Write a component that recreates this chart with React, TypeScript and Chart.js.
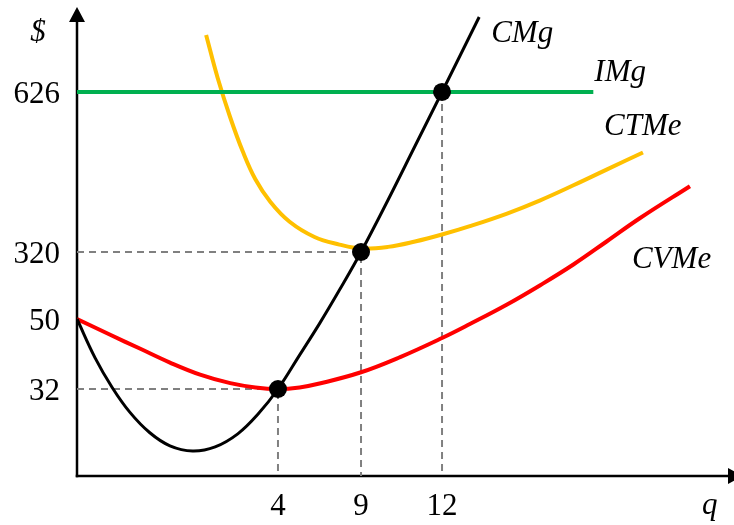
import React, { useEffect, useRef } from 'react';
import { Chart, LinearScale, registerables } from 'chart.js';

// Quantities marked on the q axis and cost levels marked on the $ axis
const Q_TICKS = [4, 9, 12];
const COST_TICKS = [32, 50, 320, 626];

// Marginal cost (CMg)
const CMG_Q = [0, 0.36, 0.7, 1.05, 1.45, 1.85, 2.3, 2.75, 3.2, 3.6, 4, 5.3, 6.5, 7.7, 9, 10, 11, 12, 13.4];
const CMG_COST = [50, 40.0, 32.4, 23.5, 15.9, 11.1, 9.2, 10.7, 15.5, 22.7, 32, 40.7, 48.8, 166.5, 320, 419.5, 522.7, 626, 779.5];

// Average variable cost (CVMe)
const CVME_Q = [0, 0.65, 1.25, 1.85, 2.45, 3.05, 3.55, 4, 5.3, 6.5, 9, 10.45, 12, 13.05, 14.45, 15.7, 16.95, 18.2, 19.45, 21.34];
const CVME_COST = [50, 46.0, 42.4, 38.8, 35.7, 33.5, 32.4, 32, 32.4, 33.4, 36.3, 40.2, 45.1, 48.7, 108.4, 186.2, 269.6, 340.1, 384.5, 445.8];

// Average total cost (CTMe)
const CTME_Q = [2.57, 2.8, 3.05, 3.3, 3.55, 3.85, 4.7, 6.2, 7.7, 9, 10, 11, 12, 13.05, 14.45, 15.7, 16.95, 18.2, 19.57];
const CTME_COST = [742.7, 654.7, 577.2, 512.0, 459.0, 415.6, 377.8, 348.7, 334.2, 326.7, 329.8, 340.1, 353.5, 369.5, 393.6, 418.9, 447.6, 477.6, 510.3];

// Marginal revenue (IMg) = price
const IMG_Q = [0, 17.7];
const IMG_COST = [626, 626];

// Marked points: shutdown, break-even and profit-maximising output
const KEY_Q = [4, 9, 12];
const KEY_COST = [32, 320, 626];

const CURVE_NAMES = ['CMg', 'IMg', 'CTMe', 'CVMe'];
const Y_TITLE = '$';
const X_TITLE = 'q';

// The axes are drawn schematically: each axis is split into linear pieces
// between the marked values (value -> fraction of the axis length).
const AXIS_BREAKS: Record<string, { values: number[]; fractions: number[] }> = {
  x: { values: [0, 4, 9, 12, 23], fractions: [0, 0.3059, 0.4323, 0.5556, 1] },
  y: { values: [0, 32, 50, 320, 626, 800], fractions: [0, 0.1855, 0.3348, 0.4776, 0.8188, 1] },
};

function piecewise(v: number, from: number[], to: number[]) {
  const n = from.length;
  let i = 0;
  if (v >= from[n - 1]) i = n - 2;
  else if (v > from[0]) {
    while (i < n - 2 && v > from[i + 1]) i++;
  }
  const t = (v - from[i]) / (from[i + 1] - from[i]);
  return to[i] + t * (to[i + 1] - to[i]);
}

class BrokenLinearScale extends LinearScale {
  static id = 'brokenLinear';
  static defaults = {};
  getPixelForValue(value: any) {
    if (value === null || value === undefined || Number.isNaN(value)) return NaN;
    const b = AXIS_BREAKS[(this as any).axis];
    return this.getPixelForDecimal(piecewise(value, b.values, b.fractions));
  }
  getValueForPixel(pixel: number) {
    const b = AXIS_BREAKS[(this as any).axis];
    return piecewise(this.getDecimalForPixel(pixel), b.fractions, b.values);
  }
}

Chart.register(...registerables, BrokenLinearScale);

const SERIF = "'Liberation Serif', 'Times New Roman', serif";

const toPoints = (qs: number[], cs: number[]) => qs.map((q, i) => ({ x: q, y: cs[i] }));

const axesPlugin = {
  id: 'arrowAxes',
  beforeDatasetsDraw(chart: any) {
    const { ctx, chartArea } = chart;
    const { left, right, top, bottom } = chartArea;
    ctx.save();
    ctx.strokeStyle = '#000';
    ctx.fillStyle = '#000';
    ctx.lineWidth = 2.5;
    ctx.beginPath();
    ctx.moveTo(left, bottom + 1.25);
    ctx.lineTo(left, top + 12);
    ctx.stroke();
    ctx.beginPath();
    ctx.moveTo(left, top);
    ctx.lineTo(left - 8, top + 15);
    ctx.lineTo(left + 8, top + 15);
    ctx.closePath();
    ctx.fill();
    ctx.beginPath();
    ctx.moveTo(left - 1.25, bottom);
    ctx.lineTo(right - 4, bottom);
    ctx.stroke();
    ctx.beginPath();
    ctx.moveTo(right + 9, bottom);
    ctx.lineTo(right - 6, bottom - 8);
    ctx.lineTo(right - 6, bottom + 8);
    ctx.closePath();
    ctx.fill();
    ctx.restore();
  },
  afterDraw(chart: any) {
    const { ctx, chartArea, scales } = chart;
    const xs = scales.x;
    const ys = scales.y;
    const end = (qs: number[], cs: number[]) => ({
      x: xs.getPixelForValue(qs[qs.length - 1]),
      y: ys.getPixelForValue(cs[cs.length - 1]),
    });
    const cmg = end(CMG_Q, CMG_COST);
    const img = end(IMG_Q, IMG_COST);
    const ctme = end(CTME_Q, CTME_COST);
    const cvme = end(CVME_Q, CVME_COST);
    ctx.save();
    ctx.fillStyle = '#000';
    ctx.font = `italic 31px ${SERIF}`;
    ctx.textBaseline = 'alphabetic';
    ctx.textAlign = 'left';
    ctx.fillText(CURVE_NAMES[0], cmg.x + 12, cmg.y + 24.5);
    ctx.fillText(CURVE_NAMES[1], img.x + 1, img.y - 11);
    ctx.fillText(CURVE_NAMES[2], ctme.x - 39, ctme.y - 17.5);
    ctx.fillText(CURVE_NAMES[3], cvme.x - 58, cvme.y + 82);
    ctx.textAlign = 'center';
    ctx.fillText(Y_TITLE, chartArea.left - 39, chartArea.top + 34);
    ctx.textAlign = 'left';
    ctx.fillText(X_TITLE, chartArea.right - 32, chartArea.bottom + 38);
    ctx.restore();
  },
};

export default function App() {
  const canvasRef = useRef<HTMLCanvasElement | null>(null);

  useEffect(() => {
    document.body.style.margin = '0';
    const canvas = canvasRef.current;
    if (!canvas) return;

    const guide = {
      borderColor: '#808080',
      borderWidth: 2,
      borderDash: [7, 5],
      pointRadius: 0,
      tension: 0,
      fill: false,
    };
    const curve = (data: any[], color: string, width: number) => ({
      data,
      borderColor: color,
      borderWidth: width,
      pointRadius: 0,
      tension: 0.4,
      fill: false,
    });

    const chart = new Chart(canvas, {
      type: 'line',
      data: {
        datasets: [
          {
            data: toPoints(KEY_Q, KEY_COST),
            showLine: false,
            pointRadius: 9,
            pointBackgroundColor: '#000',
            pointBorderWidth: 0,
          } as any,
          curve(toPoints(CMG_Q, CMG_COST), '#000000', 3),
          curve(toPoints(IMG_Q, IMG_COST), '#00b050', 4),
          curve(toPoints(CTME_Q, CTME_COST), '#ffc000', 4),
          curve(toPoints(CVME_Q, CVME_COST), '#ff0000', 4),
          { ...guide, data: [{ x: 0, y: KEY_COST[0] }, { x: KEY_Q[0], y: KEY_COST[0] }, { x: KEY_Q[0], y: 0 }] },
          { ...guide, data: [{ x: 0, y: KEY_COST[1] }, { x: KEY_Q[1], y: KEY_COST[1] }, { x: KEY_Q[1], y: 0 }] },
          { ...guide, data: [{ x: KEY_Q[2], y: KEY_COST[2] }, { x: KEY_Q[2], y: 0 }] },
        ],
      },
      options: {
        animation: false,
        responsive: false,
        events: [],
        layout: { autoPadding: false, padding: { top: 7, left: 0, right: 0, bottom: 0 } },
        plugins: { legend: { display: false }, tooltip: { enabled: false } },
        scales: {
          x: {
            type: 'brokenLinear' as any,
            min: 0,
            max: 23,
            grid: { display: false, drawTicks: false },
            border: { display: false },
            afterBuildTicks: (s: any) => {
              s.ticks = Q_TICKS.map((v) => ({ value: v }));
            },
            afterFit: (s: any) => {
              s.height = 49;
              s.paddingLeft = 0;
              s.paddingRight = 0;
            },
            ticks: {
              color: '#000',
              font: { family: SERIF, size: 31 },
              padding: 12,
              autoSkip: false,
              maxRotation: 0,
              minRotation: 0,
            },
          },
          y: {
            type: 'brokenLinear' as any,
            min: 0,
            max: 800,
            grid: { display: false, drawTicks: false },
            border: { display: false },
            afterBuildTicks: (s: any) => {
              s.ticks = COST_TICKS.map((v) => ({ value: v }));
            },
            afterFit: (s: any) => {
              s.width = 77;
              s.paddingTop = 0;
              s.paddingBottom = 0;
            },
            ticks: {
              color: '#000',
              font: { family: SERIF, size: 31 },
              padding: 17,
              labelOffset: 3,
              autoSkip: false,
            },
          },
        },
      } as any,
      plugins: [axesPlugin],
    });

    return () => chart.destroy();
  }, []);

  return (
    <div style={{ width: 734, height: 525, overflow: 'hidden', background: '#fff' }}>
      <canvas ref={canvasRef} width={734} height={525} style={{ display: 'block' }} />
    </div>
  );
}
